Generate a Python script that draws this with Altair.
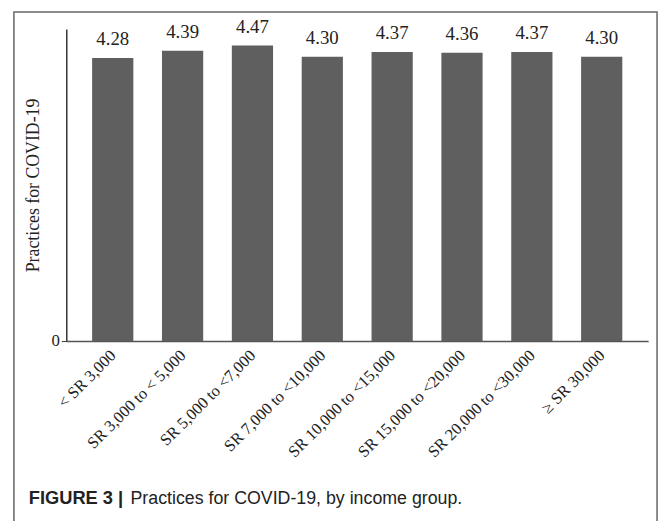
import altair as alt
import pandas as pd

categories = ["< SR 3,000", "SR 3,000 to < 5,000", "SR 5,000 to <7,000", "SR 7,000 to <10,000",
              "SR 10,000 to <15,000", "SR 15,000 to <20,000", "SR 20,000 to <30,000", "\u2265 SR 30,000"]
values = [4.28, 4.39, 4.47, 4.30, 4.37, 4.36, 4.37, 4.30]
y_title = "Practices for COVID-19"
caption_bold = "FIGURE 3 |"
caption_text = "Practices for COVID-19, by income group."

df = pd.DataFrame({"cat": categories, "val": values})
one = pd.DataFrame({"a": [0]})

SERIF = "Liberation Serif"
SANS = "Liberation Sans"

base = alt.Chart(df)
x = alt.X("cat:N", sort=categories,
          scale=alt.Scale(paddingInner=0.41, paddingOuter=0.37),
          axis=alt.Axis(title=None, labelAngle=-45, labelFont=SERIF, labelFontSize=16.5,
                        labelColor="#222", ticks=False, domainColor="#555", domainWidth=1.5,
                        labelPadding=6, labelOffset=-5))
y = alt.Y("val:Q", scale=alt.Scale(domain=[0, 4.72], nice=False),
          axis=alt.Axis(values=[0], format="d", grid=False, tickSize=5, tickColor="#333",
                        domainColor="#333", domainWidth=1.5, labelFont=SERIF, labelFontSize=17,
                        labelColor="#222", title=y_title, titleFont=SERIF, titleFontSize=18,
                        titleFontWeight="normal", titleColor="#222", titlePadding=9))

bars = base.mark_bar(color="#5f5f5f").encode(x=x, y=y)
labels = base.mark_text(dy=-9, baseline="bottom", font=SERIF, fontSize=19, color="#222").encode(
    x=alt.X("cat:N", sort=categories), y="val:Q", text=alt.Text("val:Q", format=".2f"))

frame = alt.Chart(one).mark_rect(fillOpacity=0, stroke="#666", strokeWidth=1.5).encode(
    x=alt.value(-53), x2=alt.value(598), y=alt.value(-17), y2=alt.value(520))

cap1 = alt.Chart(one).mark_text(align="left", baseline="alphabetic", font=SANS, fontSize=18.5,
                                fontWeight="bold", color="#222").encode(
    x=alt.value(-38), y=alt.value(481), text=alt.value(caption_bold))
cap2 = alt.Chart(one).mark_text(align="left", baseline="alphabetic", font=SANS, fontSize=18,
                                color="#222").encode(
    x=alt.value(65), y=alt.value(481), text=alt.value(caption_text))

chart = alt.layer(bars, labels, frame, cap1, cap2).properties(
    width=589, height=316,
    autosize=alt.AutoSizeParams(type="none"),
    padding={"left": 59, "top": 18, "right": 13, "bottom": 179},
).configure_view(stroke=None)

chart.save("out.html", embed_options={"renderer": "svg", "actions": False})
